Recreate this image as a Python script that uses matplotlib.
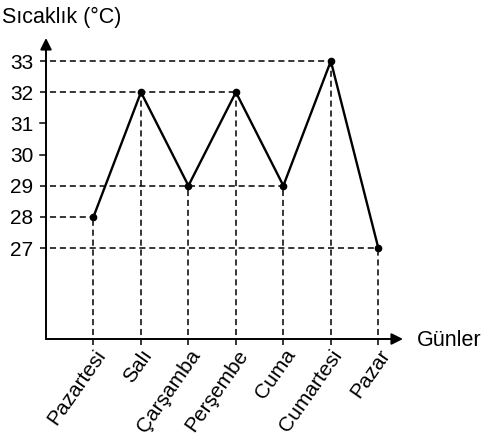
import matplotlib.pyplot as plt

plt.rcParams['font.family'] = ['Liberation Sans', 'DejaVu Sans']

days = ['Pazartesi', 'Salı', 'Çarşamba', 'Perşembe', 'Cuma', 'Cumartesi', 'Pazar']
temps = [28, 32, 29, 32, 29, 33, 27]
yticks = [27, 28, 29, 30, 31, 32, 33]

fig = plt.figure(figsize=(4.83, 4.42), dpi=100)
ax = fig.add_axes([46 / 483, 103 / 442, (403 - 46) / 483, (339 - 38) / 442])
xmin, xmax = 0, 7.52
ymin, ymax = 24.08, 33.74
ax.set_xlim(xmin, xmax)
ax.set_ylim(ymin, ymax)
for s in ax.spines.values():
    s.set_visible(False)

xs = list(range(1, len(days) + 1))

# guide lines: horizontal to the farthest point of each value, vertical to the axis
for v in yticks:
    right = max([x for x, t in zip(xs, temps) if t == v], default=None)
    if right is not None:
        ax.plot([xmin - 0.12, right], [v, v], color='black', lw=1.1, ls=(0, (4, 2.5)), clip_on=False)
    else:
        ax.plot([xmin - 0.12, xmin], [v, v], color='black', lw=1.1, clip_on=False)
for x, t in zip(xs, temps):
    ax.plot([x, x], [ymin - 0.2, t], color='black', lw=1.1, ls=(0, (4, 2.5)), clip_on=False)

ax.plot(xs, temps, color='black', lw=1.7, marker='o', ms=4.5, clip_on=False)

# axes with arrows
ax.annotate('', xy=(xmin, ymax), xytext=(xmin, ymin), annotation_clip=False,
            arrowprops=dict(arrowstyle='-|>', color='black', lw=1.4, mutation_scale=17, shrinkA=0, shrinkB=0))
ax.annotate('', xy=(xmax, ymin), xytext=(xmin, ymin), annotation_clip=False,
            arrowprops=dict(arrowstyle='-|>', color='black', lw=1.4, mutation_scale=17, shrinkA=0, shrinkB=0))

ax.set_xticks(xs)
ax.set_xticklabels(days, rotation=55, ha='right', va='top', rotation_mode='anchor', fontsize=15)
ax.set_yticks(yticks)
ax.set_yticklabels([str(v) for v in yticks], fontsize=15)
ax.tick_params(length=0)
ax.tick_params(axis='y', pad=9)
ax.tick_params(axis='x', pad=5)

fig.text(2 / 483, 1 - 17 / 442, 'Sıcaklık (°C)', fontsize=15.5, ha='left', va='center')
fig.text(417 / 483, 1 - 341 / 442, 'Günler', fontsize=15.5, ha='left', va='center')

fig.savefig('out.png', dpi=100)
